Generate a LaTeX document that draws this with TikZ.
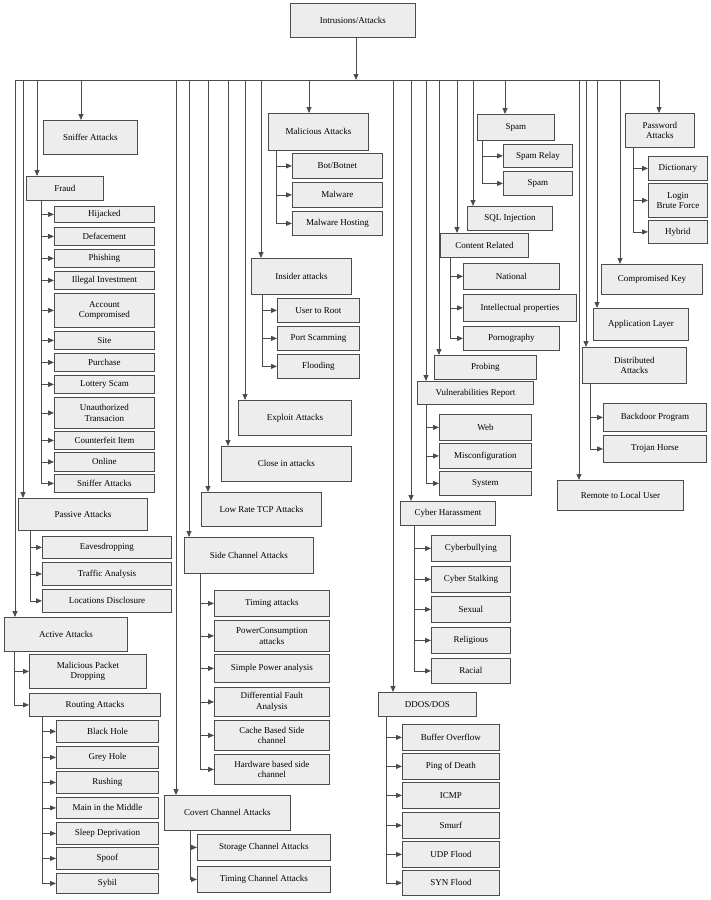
\documentclass[tikz,border=0pt]{standalone}
\usepackage{fontspec}
\setmainfont{Liberation Serif}
\usetikzlibrary{arrows.meta}
\tikzset{
  box/.style={draw=black!70,fill=black!7,line width=0.8pt,inner sep=1pt,align=center,font=\fontsize{9}{10.5}\selectfont,anchor=north west},
  arr/.style={draw=black!70,line width=0.8pt,-{Triangle[length=6pt,width=5pt]}},
  ln/.style={draw=black!70,line width=0.8pt}
}
\newcommand{\bx}[6]{\node[box,minimum width=#4pt-#2pt,minimum height=#5pt-#3pt] (#1) at (#2,#3) {#6};}
\newcommand{\drop}[2]{\path (#1,80) coordinate (tmp); \draw[arr] (tmp) -- (tmp |- #2.north);}
\newcommand{\kid}[3]{\path (#2,0) coordinate (tmp); \draw[arr] (tmp |- #1.south) |- (#3.west);}
\begin{document}
\begin{tikzpicture}[x=1pt,y=-1pt]
\useasboundingbox (0,0) rectangle (710,900);
\bx{root}{290}{3}{415}{37}{Intrusions/Attacks}
% left
\bx{snif}{43}{120}{137}{154}{Sniffer Attacks}
\bx{fraud}{26}{176}{103}{200}{Fraud}
\bx{f1}{54}{206}{154}{222}{Hijacked}
\bx{f2}{54}{227}{154}{245}{Defacement}
\bx{f3}{54}{249}{154}{267}{Phishing}
\bx{f4}{54}{271}{154}{289}{Illegal Investment}
\bx{f5}{54}{293}{154}{327}{Account\\Compromised}
\bx{f6}{54}{331}{154}{349}{Site}
\bx{f7}{54}{353}{154}{371}{Purchase}
\bx{f8}{54}{375}{154}{393}{Lottery Scam}
\bx{f9}{54}{397}{154}{428}{Unauthorized\\Transacion}
\bx{f10}{54}{431}{154}{449}{Counterfeit Item}
\bx{f11}{54}{452}{154}{471}{Online}
\bx{f12}{54}{474}{154}{492}{Sniffer Attacks}
\bx{pas}{18}{498}{147}{530}{Passive Attacks}
\bx{p1}{42}{536}{171}{558}{Eavesdropping}
\bx{p2}{42}{562}{171}{585}{Traffic Analysis}
\bx{p3}{42}{589}{171}{612}{Locations Disclosure}
\bx{act}{4}{617}{127}{651}{Active Attacks}
\bx{a1}{29}{654}{146}{688}{Malicious Packet\\Dropping}
\bx{a2}{29}{693}{160}{716}{Routing Attacks}
\bx{r1}{56}{720}{158}{742}{Black Hole}
\bx{r2}{56}{746}{158}{768}{Grey Hole}
\bx{r3}{56}{771}{158}{793}{Rushing}
\bx{r4}{56}{797}{158}{818}{Main in the Middle}
\bx{r5}{56}{822}{158}{844}{Sleep Deprivation}
\bx{r6}{56}{847}{158}{869}{Spoof}
\bx{r7}{56}{873}{158}{893}{Sybil}
% middle
\bx{mal}{268}{113}{368}{150}{Malicious Attacks}
\bx{m1}{292}{153}{382}{178}{Bot/Botnet}
\bx{m2}{292}{182}{382}{207}{Malware}
\bx{m3}{292}{211}{382}{235}{Malware Hosting}
\bx{ins}{251}{258}{351}{294}{Insider attacks}
\bx{i1}{277}{298}{359}{322}{User to Root}
\bx{i2}{277}{326}{359}{350}{Port Scamming}
\bx{i3}{277}{354}{359}{378}{Flooding}
\bx{exp}{238}{400}{351}{435}{Exploit Attacks}
\bx{clo}{221}{446}{351}{481}{Close in attacks}
\bx{low}{201}{492}{321}{526}{Low Rate TCP Attacks}
\bx{side}{184}{537}{313}{573}{Side Channel Attacks}
\bx{s1}{214}{590}{329}{616}{Timing attacks}
\bx{s2}{214}{620}{329}{651}{PowerConsumption\\attacks}
\bx{s3}{214}{654}{329}{682}{Simple Power analysis}
\bx{s4}{214}{687}{329}{716}{Differential Fault\\Analysis}
\bx{s5}{214}{720}{329}{750}{Cache Based Side\\channel}
\bx{s6}{214}{754}{329}{784}{Hardware based side\\channel}
\bx{cov}{164}{795}{290}{830}{Covert Channel Attacks}
\bx{c1}{197}{834}{330}{860}{Storage Channel Attacks}
\bx{c2}{197}{866}{330}{892}{Timing Channel Attacks}
% right-middle
\bx{spam}{477}{114}{554}{140}{Spam}
\bx{sp1}{503}{144}{572}{167}{Spam Relay}
\bx{sp2}{503}{171}{572}{195}{Spam}
\bx{sql}{467}{206}{552}{230}{SQL Injection}
\bx{con}{440}{233}{528}{257}{Content Related}
\bx{co1}{463}{263}{559}{289}{National}
\bx{co2}{463}{294}{576}{321}{Intellectual properties}
\bx{co3}{463}{326}{559}{350}{Pornography}
\bx{prob}{434}{355}{536}{379}{Probing}
\bx{vul}{417}{381}{533}{404}{Vulnerabilities Report}
\bx{v1}{439}{414}{531}{440}{Web}
\bx{v2}{439}{443}{531}{468}{Misconfiguration}
\bx{v3}{439}{471}{531}{495}{System}
\bx{cyb}{400}{501}{495}{525}{Cyber Harassment}
\bx{cy1}{431}{535}{510}{561}{Cyberbullying}
\bx{cy2}{431}{566}{510}{592}{Cyber Stalking}
\bx{cy3}{431}{596}{510}{622}{Sexual}
\bx{cy4}{431}{627}{510}{653}{Religious}
\bx{cy5}{431}{658}{510}{683}{Racial}
\bx{ddos}{378}{692}{476}{716}{DDOS/DOS}
\bx{d1}{402}{724}{499}{750}{Buffer Overflow}
\bx{d2}{402}{753}{499}{779}{Ping of Death}
\bx{d3}{402}{782}{499}{808}{ICMP}
\bx{d4}{402}{812}{499}{838}{Smurf}
\bx{d5}{402}{841}{499}{867}{UDP Flood}
\bx{d6}{402}{870}{499}{895}{SYN Flood}
% right
\bx{pw}{625}{113}{694}{147}{Password\\Attacks}
\bx{pw1}{648}{156}{707}{180}{Dictionary}
\bx{pw2}{648}{183}{707}{217}{Login\\Brute Force}
\bx{pw3}{648}{220}{707}{243}{Hybrid}
\bx{ck}{601}{264}{702}{294}{Compromised Key}
\bx{app}{593}{308}{688}{340}{Application Layer}
\bx{dis}{582}{347}{686}{383}{Distributed\\Attacks}
\bx{ds1}{603}{403}{706}{431}{Backdoor Program}
\bx{ds2}{603}{435}{706}{462}{Trojan Horse}
\bx{rem}{557}{480}{683}{510}{Remote to Local User}
% bus
\draw[ln] (15,80) -- (659,80);
\path (356,0) coordinate (tmp);
\draw[arr] (tmp |- root.south) -- (356,80);
\drop{15}{act}\drop{23}{pas}\drop{37}{fraud}\drop{81}{snif}
\drop{176}{cov}\drop{189}{side}\drop{208}{low}\drop{228}{clo}\drop{245}{exp}\drop{261}{ins}\drop{309}{mal}
\drop{393}{ddos}\drop{411}{cyb}\drop{426}{vul}\drop{439}{prob}\drop{457}{con}\drop{473}{sql}\drop{505}{spam}
\drop{579}{rem}\drop{586}{dis}\drop{597}{app}\drop{620}{ck}\drop{659}{pw}
% children
\foreach \c in {f1,f2,f3,f4,f5,f6,f7,f8,f9,f10,f11,f12}{\kid{fraud}{41}{\c}}
\foreach \c in {p1,p2,p3}{\kid{pas}{30}{\c}}
\foreach \c in {a1,a2}{\kid{act}{14}{\c}}
\foreach \c in {r1,r2,r3,r4,r5,r6,r7}{\kid{a2}{42}{\c}}
\foreach \c in {m1,m2,m3}{\kid{mal}{276}{\c}}
\foreach \c in {i1,i2,i3}{\kid{ins}{262}{\c}}
\foreach \c in {s1,s2,s3,s4,s5,s6}{\kid{side}{200}{\c}}
\foreach \c in {c1,c2}{\kid{cov}{190}{\c}}
\foreach \c in {sp1,sp2}{\kid{spam}{482}{\c}}
\foreach \c in {co1,co2,co3}{\kid{con}{450}{\c}}
\foreach \c in {v1,v2,v3}{\kid{vul}{426}{\c}}
\foreach \c in {cy1,cy2,cy3,cy4,cy5}{\kid{cyb}{414}{\c}}
\foreach \c in {d1,d2,d3,d4,d5,d6}{\kid{ddos}{386}{\c}}
\foreach \c in {pw1,pw2,pw3}{\kid{pw}{633}{\c}}
\foreach \c in {ds1,ds2}{\kid{dis}{590}{\c}}
\end{tikzpicture}
\end{document}
